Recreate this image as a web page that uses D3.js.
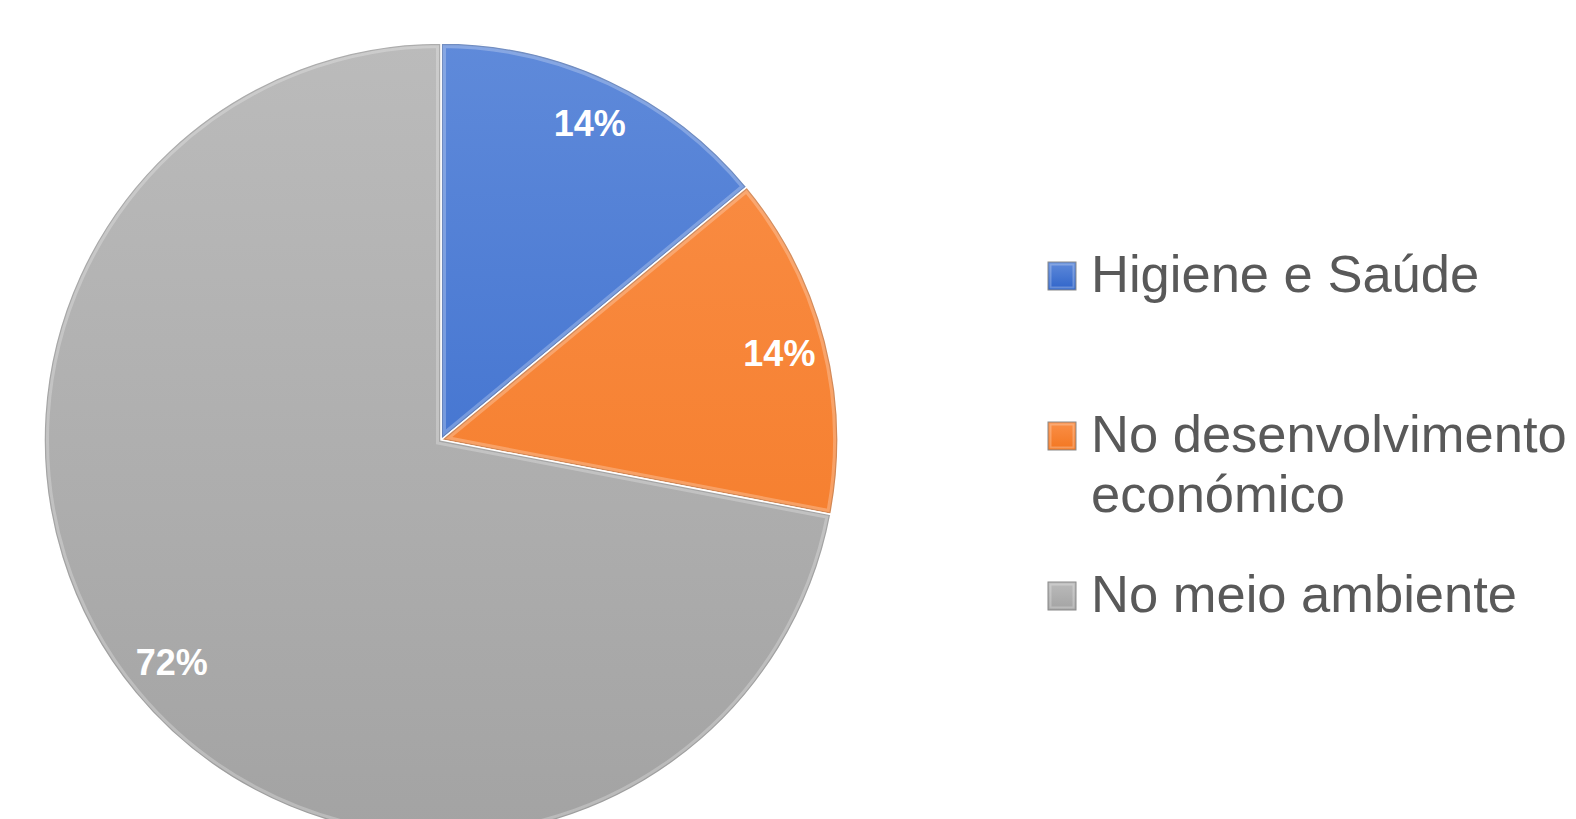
<!DOCTYPE html>
<html>
<head>
<meta charset="utf-8">
<script src="https://cdn.jsdelivr.net/npm/d3@7"></script>
<style>
  body { margin: 0; background: #fff; overflow: hidden; }
  svg { display: block; }
</style>
</head>
<body>
<svg id="chart" width="1576" height="819"></svg>
<script>
// chart data
var categories = ["Higiene e Saúde", "No desenvolvimento económico", "No meio ambiente"];
var values = [14, 14, 72];
var labels = ["14%", "14%", "72%"];
var legendLines = [["Higiene e Saúde"], ["No desenvolvimento", "económico"], ["No meio ambiente"]];
var colorsTop = ["#5f8ada", "#fa8f48", "#bbbbbb"];
var colorsBottom = ["#2f64c9", "#f37620", "#a3a3a3"];

var svg = d3.select("#chart");
var cx = 441, cy = 440, r = 397;

var defs = svg.append("defs");

//gradient per slice, in the pie group's coordinates
categories.forEach(function(c, i){
  var g = defs.append("linearGradient")
      .attr("id", "grad" + i)
      .attr("gradientUnits", "userSpaceOnUse")
      .attr("x1", 0).attr("y1", -r)
      .attr("x2", 0).attr("y2", r);
  g.append("stop").attr("offset", "0%").attr("stop-color", colorsTop[i]);
  g.append("stop").attr("offset", "100%").attr("stop-color", colorsBottom[i]);

  var lg = defs.append("linearGradient")
      .attr("id", "lgrad" + i)
      .attr("x1", 0).attr("y1", 0).attr("x2", 0).attr("y2", 1);
  lg.append("stop").attr("offset", "0%").attr("stop-color", colorsTop[i]);
  lg.append("stop").attr("offset", "100%").attr("stop-color", colorsBottom[i]);
});

var pie = d3.pie().sort(null).value(d => d);
var arcs = pie(values);

var arc = d3.arc().innerRadius(0).outerRadius(r);
var labelArc = d3.arc().innerRadius(r * 0.88).outerRadius(r * 0.88);

var pieG = svg.append("g").attr("transform", `translate(${cx},${cy})`);

arcs.forEach(function(d, i){
  defs.append("clipPath").attr("id", "clip" + i)
      .append("path").attr("d", arc(d));
});

var slices = pieG.selectAll("g.slice")
    .data(arcs)
    .enter()
    .append("g")
    .attr("class", "slice");

slices.append("path")
    .attr("d", arc)
    .attr("fill", (d, i) => `url(#grad${i})`);

// bevel: soft light inner edge clipped to slice, then darker rim
slices.append("path")
    .attr("d", arc)
    .attr("fill", "none")
    .attr("stroke", "#fff")
    .attr("stroke-opacity", 0.25)
    .attr("stroke-width", 10)
    .attr("clip-path", (d, i) => `url(#clip${i})`);

slices.append("path")
    .attr("d", arc)
    .attr("fill", "none")
    .attr("stroke", "#000")
    .attr("stroke-opacity", 0.15)
    .attr("stroke-width", 4)
    .attr("clip-path", (d, i) => `url(#clip${i})`);

slices.append("path")
    .attr("d", arc)
    .attr("fill", "none")
    .attr("stroke", "#fff")
    .attr("stroke-width", 1.5);

slices.append("text")
    .attr("transform", d => `translate(${labelArc.centroid(d)})`)
    .attr("text-anchor", "middle")
    .attr("dy", "0.35em")
    .attr("fill", "#fff")
    .style("font-family", "Liberation Sans, Arial, sans-serif")
    .style("font-weight", "bold")
    .style("font-size", "36px")
    .text((d, i) => labels[i]);

// legend
var legendY = [276, 436, 596];
var legend = svg.append("g").attr("class", "legend");

legendLines.forEach(function(lines, i){
  var g = legend.append("g").attr("transform", `translate(1048,${legendY[i]})`);
  g.append("rect")
      .attr("x", 0).attr("y", -14)
      .attr("width", 28).attr("height", 28)
      .attr("fill", `url(#lgrad${i})`)
      .attr("stroke", "#8a8a8a")
      .attr("stroke-width", 1);
  g.append("rect")
      .attr("x", 2.5).attr("y", -11.5)
      .attr("width", 23).attr("height", 23)
      .attr("fill", "none")
      .attr("stroke", "#fff")
      .attr("stroke-opacity", 0.25)
      .attr("stroke-width", 2);
  var t = g.append("text")
      .attr("x", 43)
      .attr("y", 16)
      .attr("fill", "#595959")
      .style("font-family", "Liberation Sans, Arial, sans-serif")
      .style("font-size", "52.5px");
  lines.forEach(function(l, j){
    t.append("tspan").attr("x", 43).attr("dy", j == 0 ? 0 : 60).text(l);
  });
});
</script>
</body>
</html>
